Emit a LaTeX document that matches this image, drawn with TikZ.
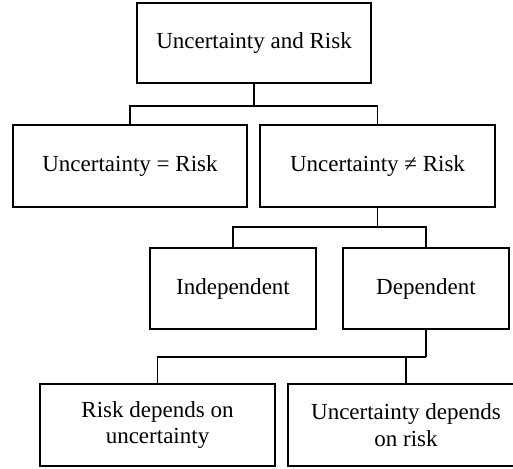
\documentclass[tikz,border=0pt]{standalone}
\usepackage{fontspec}
\setmainfont{Liberation Serif}
\begin{document}
\begin{tikzpicture}[x=1pt,y=-1pt,line width=1.4pt,
    box/.style={draw,rectangle,align=center,inner sep=0pt,
      font=\fontsize{23}{26.5}\selectfont}]
      \useasboundingbox (0,0) rectangle (513,468);
      \node[box,minimum width=234,minimum height=80] (top) at (254,43) {Uncertainty and Risk};
      \node[box,minimum width=234,minimum height=82] (eq) at (130,166) {Uncertainty = Risk};
      \node[box,minimum width=235,minimum height=82] (neq) at (377.5,166) {Uncertainty ≠ Risk};
      \node[box,minimum width=166,minimum height=81] (indep) at (233,288.5) {Independent};
      \node[box,minimum width=166,minimum height=81] (dep) at (426,288.5) {Dependent};
      \node[box,minimum width=235,minimum height=82] (riskdep) at (157.5,425) {Risk depends on\\uncertainty};
      \node[box,minimum width=236,minimum height=82] (uncdep) at (406,425) {Uncertainty depends\\on risk};
      \coordinate (j1) at (254,106);
      \coordinate (j2) at (377.5,227);
      \coordinate (j3) at (426,357);
      \draw (top.south) -- (j1);
      \draw (eq.north) |- (j1) -| (neq.north);
      \draw (neq.south) -- (j2);
      \draw (indep.north) |- (j2) -| (dep.north);
      \draw (dep.south) -- (j3);
      \draw (riskdep.north) |- (j3);
      \draw (uncdep.north) -- (uncdep.north |- j3);
    \end{tikzpicture}
\end{document}
